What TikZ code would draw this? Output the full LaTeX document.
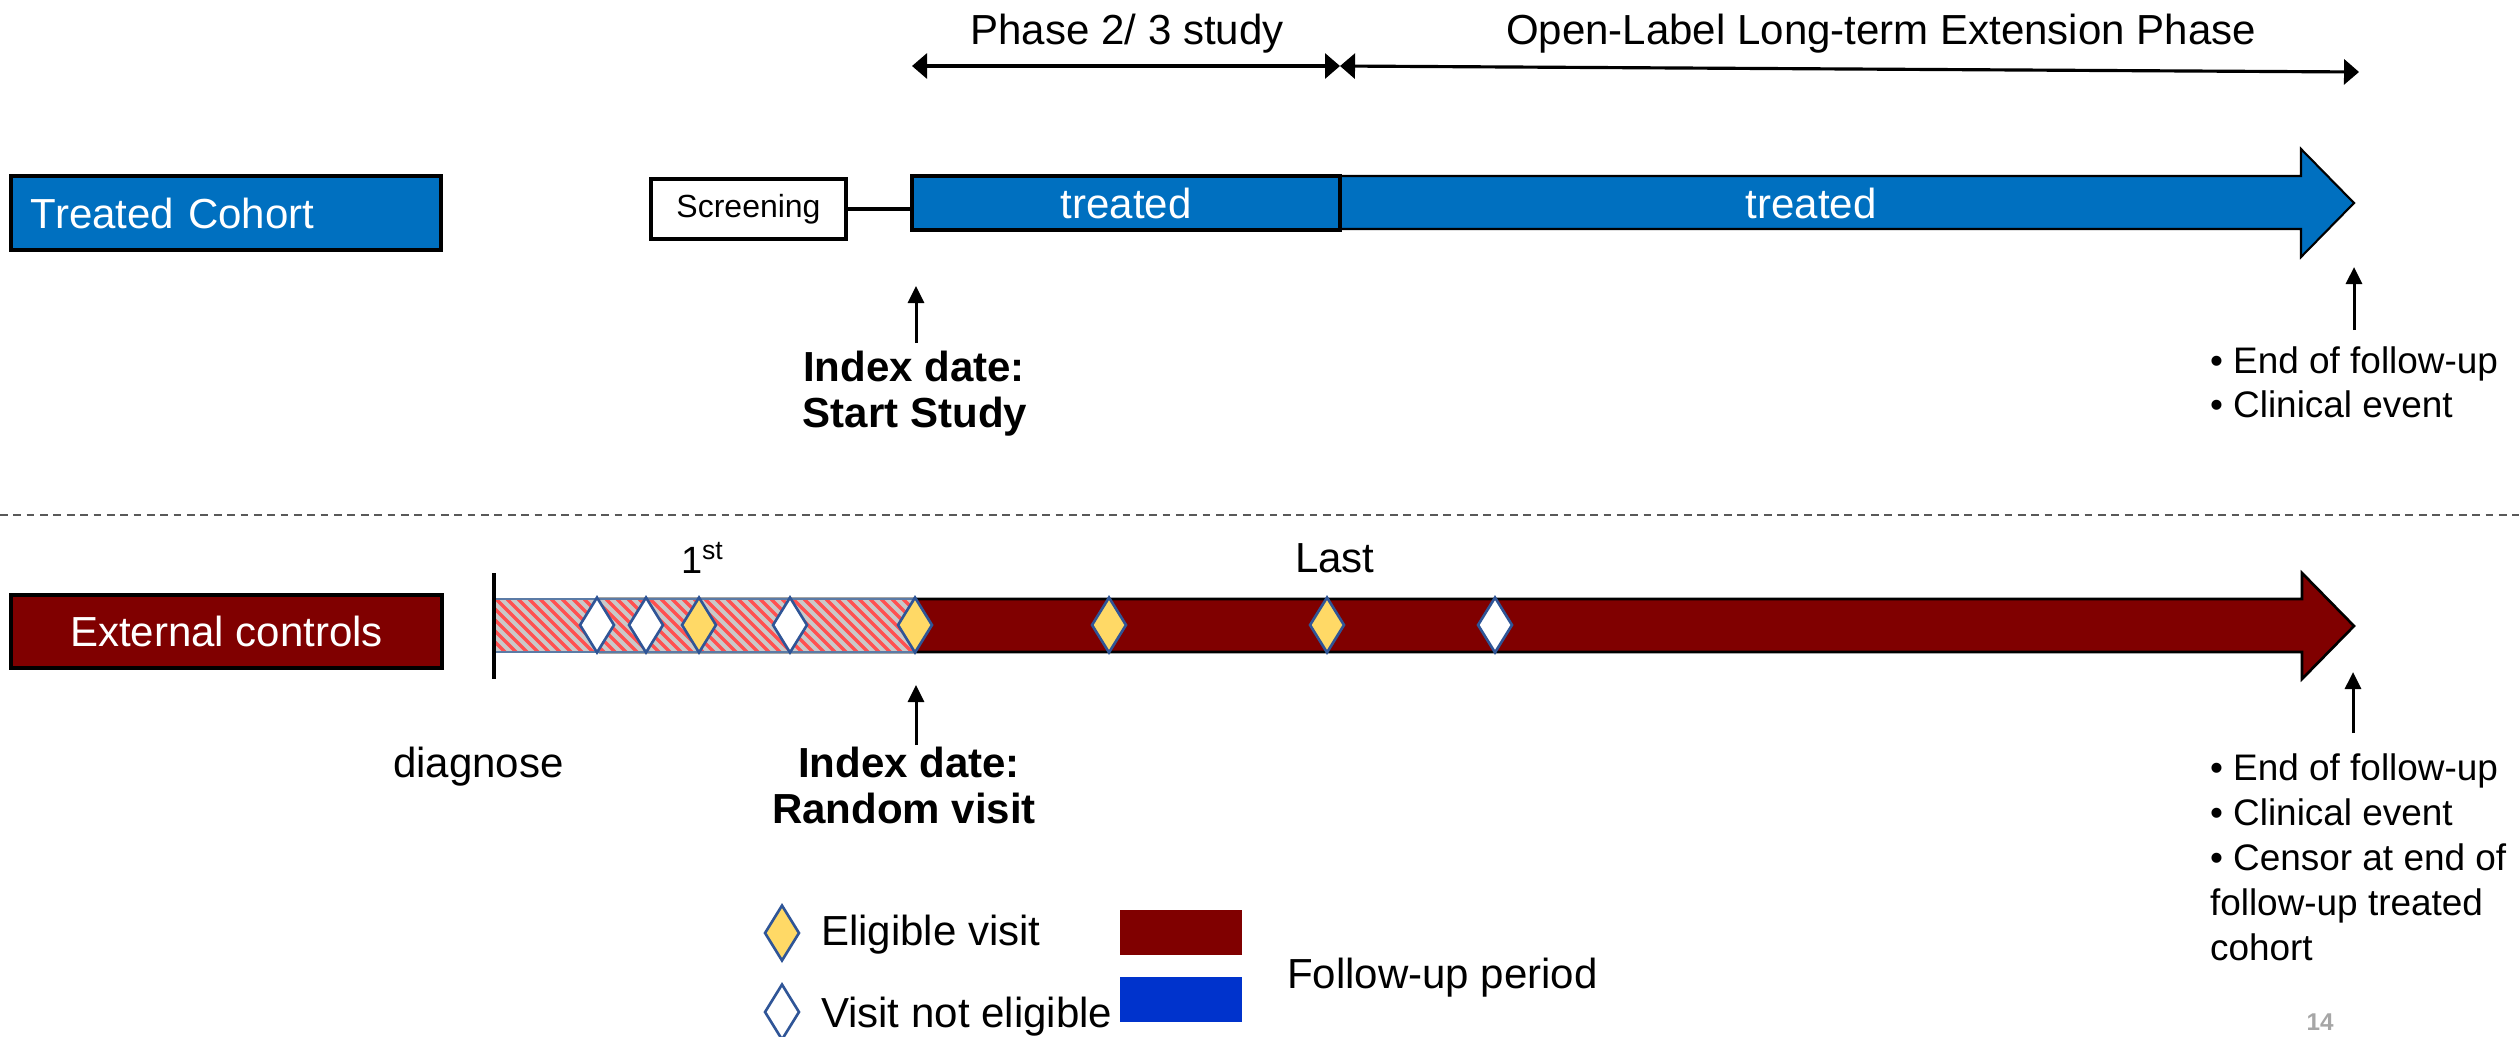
\documentclass[tikz,border=0pt]{standalone}
\usepackage{fontspec}
\setmainfont{Liberation Sans}
\usetikzlibrary{arrows.meta,shapes.geometric,calc}

\definecolor{cohortblue}{HTML}{0070C0}
\definecolor{ctrlred}{HTML}{800000}
\definecolor{legblue}{HTML}{0033CC}
\definecolor{visityellow}{HTML}{FFD966}
\definecolor{visitedge}{HTML}{2F5597}
\definecolor{hatchgray}{HTML}{C9C9C9}
\definecolor{hatchred}{HTML}{FF5050}
\definecolor{hatchedge}{HTML}{5B7BA6}
\definecolor{divider}{HTML}{595959}
\definecolor{pagenum}{HTML}{A6A6A6}

\tikzset{
  fbig/.style={font=\fontsize{11.95pt}{14pt}\selectfont},
  fbold/.style={font=\fontsize{11.95pt}{14pt}\selectfont\bfseries},
  fmid/.style={font=\fontsize{10.5pt}{12.8pt}\selectfont},
  fsmall/.style={font=\fontsize{9.1pt}{11pt}\selectfont},
  txt/.style={inner sep=0pt, outer sep=0pt, anchor=base},
  txtw/.style={inner sep=0pt, outer sep=0pt, anchor=base west},
  labelbox/.style={draw=black, line width=1.15pt, inner sep=0pt},
  visit/.style={diamond, draw=visitedge, line width=0.75pt, inner sep=0pt,
    minimum width=0.35cm, minimum height=0.56cm},
  eligible/.style={visit, fill=visityellow},
  noteligible/.style={visit, fill=white},
  uparrow/.style={-{Triangle[length=0.17cm,width=0.16cm]}, line width=0.85pt},
  phasearrow/.style={{Triangle[length=0.15cm,width=0.25cm]}-{Triangle[length=0.15cm,width=0.25cm]}, line width=0.9pt},
}

\begin{document}
\begin{tikzpicture}[x=0.01cm,y=-0.01cm]
\useasboundingbox (0,0) rectangle (2519,1036);

% ---------- treated cohort ----------
\node[labelbox, fill=cohortblue, minimum width=4.30cm, minimum height=0.74cm,
  text width=3.90cm, align=left, inner xsep=0.2cm, fbig, text=white]
  (tc) at (226,213) {Treated Cohort};

\node[labelbox, fill=white, minimum width=1.95cm, minimum height=0.60cm, fsmall]
  (scr) at (748.5,209) {Screening};

% long extension arrow (drawn first, the study block sits on top)
\draw[fill=cohortblue, draw=black, line width=0.6pt]
  (1200,176) -- (2301,176) -- (2301,149) -- (2354,203) -- (2301,257)
  -- (2301,229) -- (1200,229) -- cycle;
\node[txt, fbig, text=white] (tr2) at (1811,218) {treated};

\node[labelbox, fill=cohortblue, minimum width=4.28cm, minimum height=0.54cm,
  fbig, text=white] (tr1) at (1126,203) {treated};

\draw[line width=1.15pt] (scr.east) -- (scr.east -| tr1.west);

% study phases
\coordinate (ph0) at (912,66);
\coordinate (ph1) at (1340,66);
\coordinate (ph2) at (2359,72);
\draw[phasearrow] (ph0) -- (ph1);
\draw[phasearrow] (ph1) -- (ph2);
\node[txt, fbig] (phs) at (1127,44) {Phase 2/ 3 study};
\node[txt, fbig] (ole) at (1881,44) {Open-Label Long-term Extension Phase};

% index date, treated cohort
\node[txt, fbold] (idx1) at (914,381) {Index date:};
\node[txt, fbold] (idx1b) at (915,427) {Start Study};
\coordinate (ia0) at (916,343);
\coordinate (ia1) at (916,286);
\draw[uparrow] (ia0) -- (ia1);

% end of follow-up, treated cohort
\coordinate (ea0) at (2354,330);
\coordinate (ea1) at (2354,267);
\draw[uparrow] (ea0) -- (ea1);
\node[txtw, fmid] (e1) at (2210,373) {• End of follow-up};
\node[txtw, fmid] (e2) at (2210,417) {• Clinical event};

% ---------- divider ----------
\coordinate (dv0) at (0,515);
\coordinate (dv1) at (2519,515);
\draw[divider, line width=0.5pt, dash pattern=on 2.2pt off 1.6pt] (dv0) -- (dv1);

% ---------- external controls ----------
\node[labelbox, fill=ctrlred, minimum width=4.31cm, minimum height=0.73cm,
  fbig, text=white] (ec) at (226.5,631.5) {External controls};

% follow-up arrow
\draw[fill=ctrlred, draw=black, line width=0.75pt]
  (600,599) -- (2302,599) -- (2302,573) -- (2354,626) -- (2302,679)
  -- (2302,652) -- (600,652) -- cycle;

% hatched pre-index period
\begin{scope}
  \clip (494,599) rectangle (915,652);
  \fill[hatchgray] (494,599) rectangle (915,652);
  \foreach \x in {430,441,...,930}
    \draw[hatchred, line width=1.0pt] (\x,599) -- (\x+53,652);
\end{scope}
\draw[hatchedge, line width=0.8pt] (494,599) rectangle (915,652);

% diagnosis tick
\coordinate (dg0) at (494,573);
\coordinate (dg1) at (494,679);
\draw[line width=0.9pt] (dg0) -- (dg1);
\node[txtw, fbig] (dg) at (393,777) {diagnose};

% visits
\node[noteligible] (v1) at (597,625) {};
\node[noteligible] (v2) at (646,625) {};
\node[eligible]    (v3) at (699,625) {};
\node[noteligible] (v4) at (790,625) {};
\node[eligible]    (v5) at (915,625) {};
\node[eligible]    (v6) at (1109,625) {};
\node[eligible]    (v7) at (1327,625) {};
\node[noteligible] (v8) at (1495,625) {};

\node[txtw, font=\fontsize{10.8pt}{13pt}\selectfont] (first) at (681,573) {1\textsuperscript{st}};
\node[txtw, fbig] (last) at (1295,572) {Last};

% index date, external controls
\coordinate (ib0) at (916,745);
\coordinate (ib1) at (916,685);
\draw[uparrow] (ib0) -- (ib1);
\node[txt, fbold] (idx2) at (909,777) {Index date:};
\node[txt, fbold] (idx2b) at (904,823) {Random visit};

% end of follow-up, external controls
\coordinate (eb0) at (2353,733);
\coordinate (eb1) at (2353,672);
\draw[uparrow] (eb0) -- (eb1);
\node[txtw, fmid] (f1) at (2210,780) {• End of follow-up};
\node[txtw, fmid] (f2) at (2210,825) {• Clinical event};
\node[txtw, fmid] (f3) at (2210,870) {• Censor at end of};
\node[txtw, fmid] (f4) at (2210,915) {follow-up treated};
\node[txtw, fmid] (f5) at (2210,960) {cohort};

% ---------- legend ----------
\node[eligible]    (lg1) at (782,933) {};
\node[noteligible] (lg2) at (782,1012) {};
\node[txtw, fbig] (lt1) at (821,945) {Eligible visit};
\node[txtw, fbig] (lt2) at (821,1027) {Visit not eligible};
\fill[ctrlred] (1120,910) rectangle (1242,955);
\fill[legblue] (1120,977) rectangle (1242,1022);
\node[txtw, fbig] (lt3) at (1287,988) {Follow-up period};

\node[txt, font=\fontsize{6.9pt}{8pt}\selectfont\bfseries, text=pagenum] (pg) at (2320,1030) {14};
\end{tikzpicture}
\end{document}
